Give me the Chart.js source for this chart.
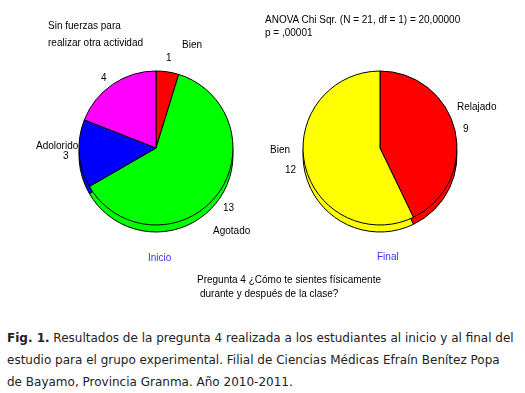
<!DOCTYPE html>
<html>
<head>
<meta charset="utf-8">
<script src="https://cdn.jsdelivr.net/npm/chart.js@4"></script>
<style>
  html,body{margin:0;padding:0;background:#fff;}
  #wrap{position:relative;width:525px;height:393px;overflow:hidden;background:#fff;}
  canvas{position:absolute;}
  .t{position:absolute;font-family:"Liberation Sans",Arial,sans-serif;font-size:10px;color:#000;white-space:nowrap;line-height:1;}
  .blue{color:#3333ff;}
  .cap{position:absolute;left:7px;font-family:"DejaVu Sans",Verdana,sans-serif;font-size:12px;color:#222;white-space:nowrap;line-height:1;}
</style>
</head>
<body>
<div id="wrap">
  <canvas id="c1" width="262" height="300" style="left:0;top:0;width:262px;height:300px"></canvas>
  <canvas id="c2" width="263" height="300" style="left:262px;top:0;width:263px;height:300px"></canvas>

  <div class="t" style="left:48px;top:21px">Sin fuerzas para</div>
  <div class="t" style="left:48px;top:38px">realizar otra actividad</div>
  <div class="t" style="left:182px;top:40px">Bien</div>
  <div class="t" style="left:166px;top:53px">1</div>
  <div class="t" style="left:101px;top:73px">4</div>
  <div class="t" style="left:36px;top:141px">Adolorido</div>
  <div class="t" style="left:63px;top:151px">3</div>
  <div class="t" style="left:223px;top:203px">13</div>
  <div class="t" style="left:213px;top:226px">Agotado</div>
  <div class="t blue" style="left:148px;top:253px">Inicio</div>

  <div class="t" style="left:265px;top:15px">ANOVA Chi Sqr. (N = 21, df = 1) = 20,00000</div>
  <div class="t" style="left:265px;top:28px">p = ,00001</div>
  <div class="t" style="left:457px;top:102px">Relajado</div>
  <div class="t" style="left:463px;top:124px">9</div>
  <div class="t" style="left:270px;top:145px">Bien</div>
  <div class="t" style="left:285px;top:165px">12</div>
  <div class="t blue" style="left:377px;top:252px">Final</div>

  <div class="t" style="left:197px;top:275px">Pregunta 4 ¿Cómo te sientes físicamente</div>
  <div class="t" style="left:200px;top:289px">durante y después de la clase?</div>

  <div class="cap" style="top:332px"><b>Fig. 1.</b> Resultados de la pregunta 4 realizada a los estudiantes al inicio y al final del</div>
  <div class="cap" style="top:354px">estudio para el grupo experimental. Filial de Ciencias Médicas Efraín Benítez Popa</div>
  <div class="cap" style="top:376px">de Bayamo, Provincia Granma. Año 2010-2011.</div>
</div>
<script>
const inicioCategories = ["Bien", "Agotado", "Adolorido", "Sin fuerzas para realizar otra actividad"];
const inicioValues = [1, 13, 3, 4];
const inicioColors = ["#ff0000", "#00ff00", "#0000ff", "#ff00ff"];

const finalCategories = ["Relajado", "Bien"];
const finalValues = [9, 12];
const finalColors = ["#ff0000", "#ffff00"];

// draws a copy of the pie shifted down, behind the main pie, for the 3D rim
const rimPlugin = {
  id: 'rim',
  beforeDatasetsDraw(chart) {
    const ctx = chart.ctx;
    const meta = chart.getDatasetMeta(0);
    ctx.save();
    ctx.translate(0, 7);
    meta.data.forEach(a => a.draw(ctx));
    ctx.restore();
  }
};

function makePie(id, labels, values, colors, padding) {
  return new Chart(document.getElementById(id), {
    type: 'pie',
    data: {
      labels: labels,
      datasets: [{
        data: values,
        backgroundColor: colors,
        borderColor: '#000',
        borderWidth: 1
      }]
    },
    options: {
      responsive: false,
      animation: false,
      radius: 77,
      layout: { padding: padding },
      plugins: { legend: { display: false }, tooltip: { enabled: false } }
    },
    plugins: [rimPlugin]
  });
}

makePie('c1', inicioCategories, inicioValues, inicioColors, { left: 50, right: 0, top: 0, bottom: 4 });
makePie('c2', finalCategories, finalValues, finalColors, { left: 0, right: 27, top: 0, bottom: 4 });
</script>
</body>
</html>
